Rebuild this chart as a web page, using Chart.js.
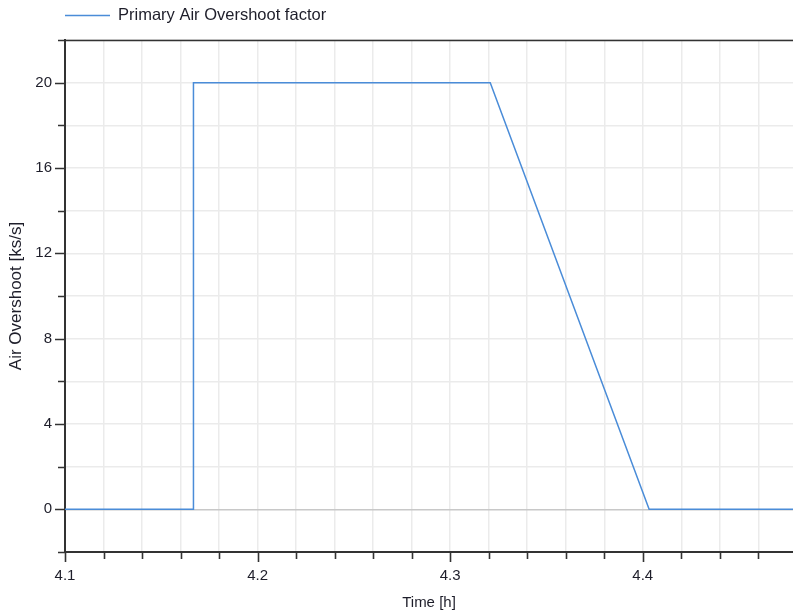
<!DOCTYPE html>
<html>
<head>
<meta charset="utf-8">
<script src="https://cdn.jsdelivr.net/npm/chart.js@4/dist/chart.umd.min.js"></script>
<style>
  html, body { margin: 0; padding: 0; background: #ffffff; }
  #wrap { width: 793px; height: 613px; position: relative; }
</style>
</head>
<body>
<div id="wrap"><canvas id="chart" width="793" height="613"></canvas></div>
<script>
// Primary air overshoot factor over time
const seriesLabel = 'Primary Air Overshoot factor';
const timeH = [4.1, 4.1667, 4.1667, 4.3208, 4.4033, 4.48];
const overshoot = [0, 0, 20, 20, 0, 0];

// Axis ranges and tick spacing
const xMin = 4.1, xMax = 4.478, xMinorStep = 0.02, xMajorStep = 0.1;
const yMin = -2, yMax = 22, yMinorStep = 2, yMajorStep = 4;
const xTitle = 'Time [h]';
const yTitle = 'Air Overshoot [ks/s]';

const lineColor = '#4a8cd8';
const axisColor = '#333333';
const textColor = '#1e1e2a';
const fontFamily = '"Liberation Sans", Arial, sans-serif';

function isMultiple(v, step) {
  const r = v / step;
  return Math.abs(r - Math.round(r)) < 1e-6;
}

function stepTicks(min, max, step) {
  const out = [];
  const n = Math.floor((max - min) / step + 1e-6);
  for (let k = 0; k <= n; k++) out.push({ value: Math.round((min + k * step) * 1000) / 1000 });
  return out;
}

// Outward tick marks (long at labelled values), frame top line and legend
const framePlugin = {
  id: 'framePlugin',
  afterDraw(chart) {
    const { ctx, chartArea: a, scales } = chart;
    ctx.save();
    ctx.strokeStyle = axisColor;
    ctx.lineWidth = 1.6;
    ctx.beginPath();
    scales.x.ticks.forEach(t => {
      const px = Math.round(scales.x.getPixelForValue(t.value)) + 0.5;
      const len = isMultiple(t.value, xMajorStep) ? 10 : 7;
      ctx.moveTo(px, a.bottom);
      ctx.lineTo(px, a.bottom + len);
    });
    scales.y.ticks.forEach(t => {
      const py = Math.round(scales.y.getPixelForValue(t.value)) + 0.5;
      const len = isMultiple(t.value, yMajorStep) ? 10 : 7;
      ctx.moveTo(a.left, py);
      ctx.lineTo(a.left - len, py);
    });
    ctx.stroke();
    // top frame line
    ctx.beginPath();
    ctx.moveTo(a.left, Math.round(a.top) + 0.5);
    ctx.lineTo(a.right, Math.round(a.top) + 0.5);
    ctx.stroke();

    // legend
    const ds = chart.data.datasets[0];
    const ly = 15.5;
    ctx.strokeStyle = ds.borderColor;
    ctx.lineWidth = 1.5;
    ctx.beginPath();
    ctx.moveTo(a.left, ly);
    ctx.lineTo(a.left + 45, ly);
    ctx.stroke();
    ctx.fillStyle = textColor;
    ctx.font = '16.5px ' + fontFamily;
    ctx.textBaseline = 'middle';
    ctx.textAlign = 'left';
    ctx.fillText(ds.label, a.left + 53, ly);
    ctx.restore();
  }
};

new Chart(document.getElementById('chart'), {
  type: 'scatter',
  data: {
    datasets: [{
      label: seriesLabel,
      data: timeH.map((t, i) => ({ x: t, y: overshoot[i] })),
      showLine: true,
      borderColor: lineColor,
      backgroundColor: lineColor,
      borderWidth: 1.5,
      pointRadius: 0,
      pointHoverRadius: 0,
      tension: 0
    }]
  },
  options: {
    responsive: false,
    animation: false,
    events: [],
    layout: { padding: { top: 40, right: 0, bottom: 0, left: 0 } },
    plugins: { legend: { display: false }, tooltip: { enabled: false } },
    scales: {
      x: {
        type: 'linear',
        min: xMin,
        max: xMax,
        afterBuildTicks(scale) { scale.ticks = stepTicks(xMin, xMax, xMinorStep); },
        afterFit(scale) { scale.height = 61; },
        grid: {
          drawTicks: false,
          color: '#ebebeb',
          lineWidth: 1.5
        },
        border: { display: true, color: axisColor, width: 2 },
        ticks: {
          padding: 15,
          maxRotation: 0,
          autoSkip: false,
          color: textColor,
          font: { family: fontFamily, size: 15 },
          callback: v => isMultiple(v, xMajorStep) ? (Math.round(v * 10) / 10).toFixed(1) : ''
        },
        title: {
          display: true,
          text: xTitle,
          color: textColor,
          font: { family: fontFamily, size: 15 },
          padding: { top: 0, bottom: 1 }
        }
      },
      y: {
        type: 'linear',
        min: yMin,
        max: yMax,
        afterBuildTicks(scale) { scale.ticks = stepTicks(yMin, yMax, yMinorStep); },
        afterFit(scale) { scale.width = 65; },
        grid: {
          drawTicks: false,
          color: ctx => (ctx.tick && ctx.tick.value === 0) ? '#c8c8c8' : '#ebebeb',
          lineWidth: 1.5
        },
        border: { display: true, color: axisColor, width: 2 },
        ticks: {
          padding: 13,
          autoSkip: false,
          color: textColor,
          font: { family: fontFamily, size: 15 },
          callback: v => isMultiple(v, yMajorStep) ? String(Math.round(v)) : ''
        },
        title: {
          display: true,
          text: yTitle,
          color: textColor,
          font: { family: fontFamily, size: 17 },
          padding: { top: 6, bottom: 0 }
        }
      }
    }
  },
  plugins: [framePlugin]
});
</script>
</body>
</html>
